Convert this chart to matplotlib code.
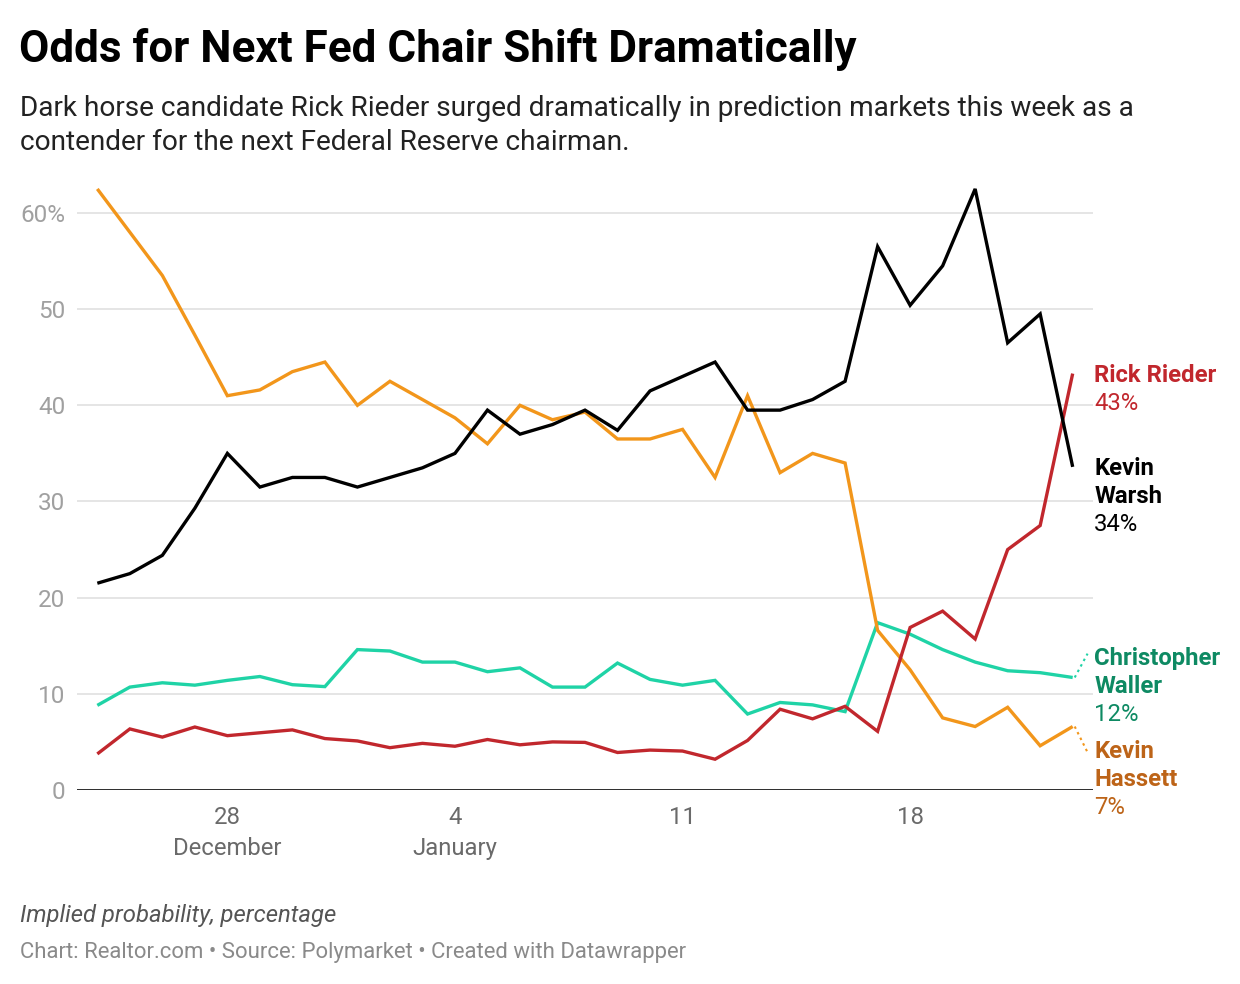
#!/usr/bin/env python3

import matplotlib
matplotlib.use("Agg")
import matplotlib.pyplot as plt
import pandas as pd

# daily implied probability (%), Dec 24 -> Jan 23
dates = pd.date_range("2025-12-24", "2026-01-23", freq="D")

hassett = [62.5, 58.0, 53.5, 47.3, 41.0, 41.6, 43.5, 44.5,
           40.0, 42.5, 40.6, 38.7, 36.0, 40.0, 38.5, 39.3, 36.5, 36.5, 37.5, 32.5,
           41.0, 33.0, 35.0, 34.0, 16.6, 12.5, 7.5, 6.6, 8.6, 4.6, 6.6]
warsh = [21.5, 22.5, 24.4, 29.3, 35.0, 31.5, 32.5, 32.5,
         31.5, 32.5, 33.5, 35.0, 39.5, 37.0, 38.0, 39.5, 37.4, 41.5, 43.0, 44.5,
         39.5, 39.5, 40.6, 42.5, 56.5, 50.4, 54.5, 62.5, 46.5, 49.5, 33.6]
waller = [8.8, 10.7, 11.15, 10.9, 11.4, 11.8, 10.95, 10.75,
          14.6, 14.45, 13.3, 13.3, 12.3, 12.7, 10.7, 10.7, 13.2, 11.5, 10.9, 11.4,
          7.9, 9.1, 8.85, 8.15, 17.4, 16.2, 14.6, 13.3, 12.4, 12.2, 11.7]
rieder = [3.75, 6.35, 5.5, 6.55, 5.65, 5.95, 6.25, 5.35,
          5.1, 4.4, 4.85, 4.55, 5.25, 4.7, 5.0, 4.95, 3.9, 4.15, 4.05, 3.2,
          5.15, 8.4, 7.4, 8.7, 6.1, 16.9, 18.6, 15.7, 25.0, 27.5, 43.3]

y_ticks = [0, 10, 20, 30, 40, 50, 60]
y_labels = ["0", "10", "20", "30", "40", "50", "60%"]
x_ticks = ["2025-12-28", "2026-01-04", "2026-01-11", "2026-01-18"]
x_labels = ["28\nDecember", "4\nJanuary", "11", "18"]

# name, values, line colour, label colour, label lines, moved label y (data)
series = [
    ("Christopher Waller", waller, "#1fd3a6", "#0e8a63", ["Christopher", "Waller"], 13.93),
    ("Kevin Hassett", hassett, "#f2961b", "#bd6418", ["Kevin", "Hassett"], 4.16),
    ("Rick Rieder", rieder, "#c1272d", "#c1272d", ["Rick Rieder"], None),
    ("Kevin Warsh", warsh, "#000000", "#000000", ["Kevin", "Warsh"], None),
]

W, H = 1240, 984
plt.rcParams["font.family"] = ["Roboto", "DejaVu Sans"]


def fx(px):
    return px / W


def fy(py):
    return 1 - py / H


def main():
    fig = plt.figure(figsize=(W / 100, H / 100), dpi=100)
    fig.patch.set_facecolor("white")

    y_top = 64.0
    ax = fig.add_axes([fx(77), fy(790), fx(1093) - fx(77), y_top * 9.617 / H])

    ax.set_ylim(0, y_top)
    half = pd.Timedelta(hours=15)
    ax.set_xlim(dates[0] - half, dates[-1] + half)

    for spine in ax.spines.values():
        spine.set_visible(False)

    for v in y_ticks[1:]:
        ax.axhline(v, color="#e3e3e3", lw=1.3, zorder=0)
    ax.axhline(0, color="#1a1a1a", lw=2.0, zorder=5)

    ax.set_yticks(y_ticks)
    ax.set_yticklabels(y_labels)
    ax.tick_params(axis="y", length=0, pad=8.5, labelsize=17.5, labelcolor="#a0a0a0")
    ax.set_xticks(pd.to_datetime(x_ticks))
    ax.set_xticklabels(x_labels, linespacing=1.45)
    ax.tick_params(axis="x", length=0, pad=11.5, labelsize=17.2, labelcolor="#6a6a6a")

    for i, (name, vals, col, lcol, lines, label_y) in enumerate(series):
        ax.plot(dates, vals, color=col, lw=2.4, zorder=2 + i,
                solid_joinstyle="miter", solid_capstyle="butt")

        end = vals[-1]
        ly = end if label_y is None else label_y
        lx = dates[-1] + pd.Timedelta(hours=16)
        if label_y is not None:
            ax.plot([dates[-1] + pd.Timedelta(hours=1.5), dates[-1] + pd.Timedelta(hours=11)],
                    [end, label_y + (0.25 if label_y > end else -0.25)],
                    color=col, lw=1.5, ls=(0, (1.2, 1.8)), clip_on=False, zorder=2)
        off = -2
        for ln in lines:
            ax.annotate(ln, xy=(lx, ly), xytext=(0, off), textcoords="offset pixels",
                        ha="left", va="center", fontsize=17.2, fontweight="bold",
                        color=lcol, annotation_clip=False)
            off -= 28
        ax.annotate(f"{round(end)}%", xy=(lx, ly), xytext=(0, off), textcoords="offset pixels",
                    ha="left", va="center", fontsize=17.2, color=lcol, annotation_clip=False)

    fig.text(fx(19), fy(62), "Odds for Next Fed Chair Shift Dramatically",
             fontsize=31.7, fontweight="bold", color="#000000", va="baseline")
    fig.text(fx(20), fy(116), "Dark horse candidate Rick Rieder surged dramatically in prediction markets this week as a",
             fontsize=20.2, color="#222222", va="baseline")
    fig.text(fx(20), fy(150), "contender for the next Federal Reserve chairman.",
             fontsize=20.2, color="#222222", va="baseline")

    fig.text(fx(20), fy(922), "Implied probability, percentage",
             fontsize=17.2, style="italic", color="#555555", va="baseline")
    fig.text(fx(20), fy(958), "Chart: Realtor.com \u2022 Source: Polymarket \u2022 Created with Datawrapper",
             fontsize=15.9, color="#8a8a8a", va="baseline")

    fig.savefig("out.png", dpi=100, facecolor="white")


if __name__ == "__main__":
    main()
